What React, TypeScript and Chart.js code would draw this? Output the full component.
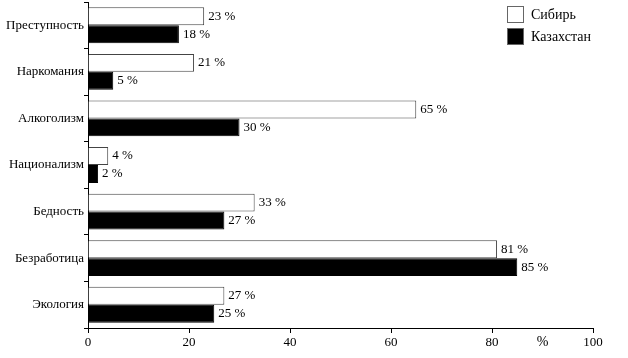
import React, { useEffect, useRef } from "react";
import { Chart, registerables } from "chart.js";

Chart.register(...registerables);

const categories = ["Преступность", "Наркомания", "Алкоголизм", "Национализм", "Бедность", "Безработица", "Экология"];
const siberia = [23, 21, 65, 4, 33, 81, 27];
const kazakhstan = [18, 5, 30, 2, 27, 85, 25];
const seriesNames = ["Сибирь", "Казахстан"];
const xTicks = [0, 20, 40, 60, 80, 100];

const FONT = "'Liberation Serif', 'Times New Roman', serif";

const overlayPlugin = {
  id: "overlay",
  afterDatasetsDraw(chart: any) {
    const ctx = chart.ctx;
    ctx.save();
    ctx.font = `13px ${FONT}`;
    ctx.fillStyle = "#000";
    ctx.textBaseline = "middle";
    ctx.textAlign = "left";
    chart.data.datasets.forEach((ds: any, di: number) => {
      const meta = chart.getDatasetMeta(di);
      meta.data.forEach((bar: any, i: number) => {
        ctx.fillText(`${ds.data[i]} %`, bar.x + 4, bar.y);
      });
    });
    // "%" unit label on x axis
    const xs = chart.scales.x;
    ctx.font = `14px ${FONT}`;
    ctx.textAlign = "center";
    ctx.textBaseline = "top";
    ctx.fillText("%", xs.getPixelForValue(90), chart.chartArea.bottom + 7);
    // legend
    const lx = 507;
    const boxes = [
      { fill: "#fff", y: 6 },
      { fill: "#000", y: 28 },
    ];
    ctx.font = `14px ${FONT}`;
    ctx.textAlign = "left";
    ctx.textBaseline = "middle";
    boxes.forEach((b, i) => {
      ctx.fillStyle = b.fill;
      ctx.fillRect(lx, b.y, 17, 17);
      ctx.strokeStyle = "#666";
      ctx.lineWidth = 1;
      ctx.strokeRect(lx + 0.5, b.y + 0.5, 16, 16);
      ctx.fillStyle = "#000";
      ctx.fillText(seriesNames[i], lx + 24, b.y + 9);
    });
    ctx.restore();
  },
};

export default function App() {
  const ref = useRef<HTMLCanvasElement>(null);
  useEffect(() => {
    document.body.style.margin = "0";
    const chart = new Chart(ref.current!, {
      type: "bar",
      data: {
        labels: categories,
        datasets: [
          {
            label: seriesNames[0],
            data: siberia,
            backgroundColor: "#fff",
            borderColor: "#444",
            borderWidth: 1,
            barPercentage: 1,
            categoryPercentage: 0.77,
          },
          {
            label: seriesNames[1],
            data: kazakhstan,
            backgroundColor: "#000",
            borderColor: "#000",
            borderWidth: 1,
            barPercentage: 1,
            categoryPercentage: 0.77,
          },
        ],
      },
      options: {
        indexAxis: "y",
        animation: false,
        responsive: false,
        devicePixelRatio: 1,
        layout: { padding: { top: 2, right: 35, left: 0, bottom: 0 } },
        plugins: { legend: { display: false }, tooltip: { enabled: false } },
        scales: {
          x: {
            min: 0,
            max: 100,
            afterBuildTicks: (s: any) => {
              s.ticks = xTicks.map((v) => ({ value: v }));
            },
            afterFit: (s: any) => {
              s.height = 30;
            },
            grid: { drawOnChartArea: false, tickLength: 5, color: "#000" },
            border: { color: "#000" },
            ticks: { color: "#000", font: { family: FONT, size: 13 }, padding: 2 },
          },
          y: {
            afterFit: (s: any) => {
              s.width = 88;
              s.paddingTop = 0;
              s.paddingBottom = 0;
            },
            grid: { drawOnChartArea: false, tickLength: 4, color: "#000", offset: true },
            border: { color: "#000" },
            ticks: { color: "#000", font: { family: FONT, size: 13 }, padding: 0 },
          },
        },
      },
      plugins: [overlayPlugin],
    } as any);
    return () => chart.destroy();
  }, []);
  return (
    <div style={{ position: "absolute", left: 0, top: 0 }}>
      <canvas ref={ref} width={628} height={358} />
    </div>
  );
}
